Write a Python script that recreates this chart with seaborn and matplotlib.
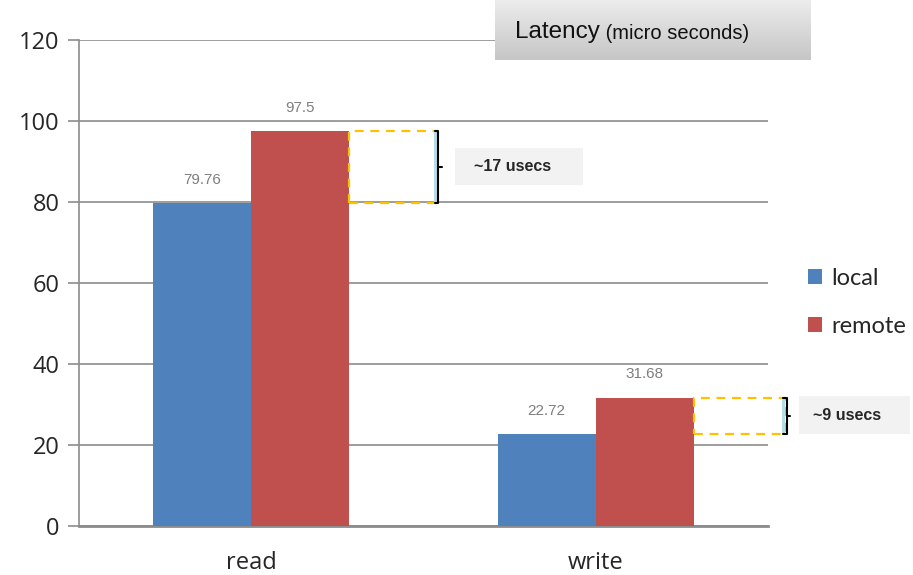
import numpy as np
import pandas as pd
import matplotlib
matplotlib.use("Agg")
import matplotlib.pyplot as plt
from matplotlib.patches import Rectangle, Patch
import seaborn as sns

# Data
operations = ["read", "write"]
modes = ["local", "remote"]
local_us = [79.76, 22.72]
remote_us = [97.5, 31.68]
gap_labels = ["~17 usecs", "~9 usecs"]
yticks = [0, 20, 40, 60, 80, 100, 120]

df = pd.DataFrame({
    "op": operations * 2,
    "mode": ["local"] * 2 + ["remote"] * 2,
    "latency": local_us + remote_us,
})

sns.set_style("white")
plt.rcParams["font.family"] = ["Liberation Sans", "DejaVu Sans"]

palette = {"local": "#4f81bd", "remote": "#c0504d"}

fig = plt.figure(figsize=(9.13, 5.75), dpi=100)
ax = fig.add_axes([79 / 913, 49 / 575, 689 / 913, 486 / 575])

sns.barplot(data=df, x="op", y="latency", hue="mode", order=operations,
            hue_order=modes, palette=palette, width=0.57, gap=0,
            saturation=1, legend=False, ax=ax, zorder=3,
            edgecolor="none", errorbar=None)

ax.set_xlim(-0.5, 1.5)
ax.set_ylim(0, 120)
ax.set_yticks(yticks)
ax.set_yticklabels([str(v) for v in yticks], fontsize=17, family="Open Sans")
ax.yaxis.grid(True, color="#8c8c8c", linewidth=1.2, zorder=0)
ax.set_axisbelow(True)
ax.set_xlabel("")
ax.set_ylabel("")

ax.set_xticks([0, 1])
ax.set_xticklabels(operations, fontsize=17, family="Open Sans")
ax.set_xticks([-0.5, 0.5, 1.5], minor=True)
ax.tick_params(axis="x", which="major", length=0, pad=18)
ax.tick_params(axis="x", which="minor", length=7, color="#8c8c8c", width=1.2)
ax.tick_params(axis="y", length=8, color="#8c8c8c", width=1.2, pad=6,
               left=True)
for s in ["top", "right"]:
    ax.spines[s].set_visible(False)
ax.spines["left"].set_color("#8c8c8c")
ax.spines["left"].set_linewidth(1.2)
ax.spines["bottom"].set_color("#8c8c8c")
ax.spines["bottom"].set_linewidth(2)

# Value labels above bars
half = 0.57 / 2
for i, (lv, rv) in enumerate(zip(local_us, remote_us)):
    for xc, v in ((i - half / 2, lv), (i + half / 2, rv)):
        ax.text(xc, v + 4, f"{v:g}", ha="center", va="bottom",
                fontsize=11, color="#7f7f7f", zorder=5)

# Difference markers: dashed box, bracket, label box
bracket_x = [0.539, 1.55]
label_boxes = [(0.592, 0.963, 84.2, 93.3), (1.589, 1.911, 22.7, 32.1)]
for i, (lv, rv) in enumerate(zip(local_us, remote_us)):
    x0 = i + half
    x1 = bracket_x[i]
    ax.add_patch(Rectangle((x0, lv), x1 - x0, rv - lv, fill=False,
                           edgecolor="#ffc000", linestyle=(0, (4, 3)),
                           linewidth=1.6, zorder=4, clip_on=False))
    ax.add_patch(Rectangle((x1 - 0.008, lv), 0.008, rv - lv,
                           facecolor="#b7dde8", edgecolor="none",
                           zorder=4, clip_on=False))
    bx = x1 + 0.004
    ax.plot([x1 - 0.006, bx, bx, x1 - 0.006], [rv, rv, lv, lv],
            color="black", linewidth=1.5, zorder=5, clip_on=False)
    mid = (lv + rv) / 2
    ax.plot([bx, bx + 0.01], [mid, mid], color="black", linewidth=1.5,
            zorder=5, clip_on=False)
    lx0, lx1, ly0, ly1 = label_boxes[i]
    ax.add_patch(Rectangle((lx0, ly0), lx1 - lx0, ly1 - ly0,
                           facecolor="#f2f2f2", edgecolor="none",
                           zorder=4, clip_on=False))
    ax.text((lx0 + lx1) / 2 - 0.02, (ly0 + ly1) / 2, gap_labels[i],
            ha="center", va="center", fontsize=11.5, fontweight="bold",
            zorder=5, clip_on=False)

# Legend
handles = [Patch(facecolor=palette[m], edgecolor="none") for m in modes]
fig.legend(handles, modes, loc="upper left",
           bbox_to_anchor=(808 / 913, 1 - 268 / 575), frameon=False,
           borderpad=0, borderaxespad=0,
           handlelength=0.6, handleheight=0.6,
           handletextpad=0.4, labelspacing=1.15,
           prop={"family": "Lato", "size": 17})

# Title box with vertical gradient
tax = fig.add_axes([495 / 913, 1 - 60 / 575, 315 / 913, 60 / 575])
grad = np.linspace(0, 1, 100).reshape(-1, 1)
tax.imshow(grad, cmap=matplotlib.colors.LinearSegmentedColormap.from_list(
    "g", ["#ececec", "#c6c6c6"]), aspect="auto", extent=(0, 1, 0, 1),
    origin="upper")
tax.set_xlim(0, 1)
tax.set_ylim(0, 1)
tax.axis("off")
t1 = tax.text(0.063, 0.36, "Latency", fontsize=17.5, va="baseline",
              ha="left", color="#111111")
tax.annotate(" (micro seconds)", xy=(1, 0), xycoords=t1, va="bottom",
             ha="left", fontsize=14.5, color="#111111")

fig.savefig("out.png", dpi=100)
